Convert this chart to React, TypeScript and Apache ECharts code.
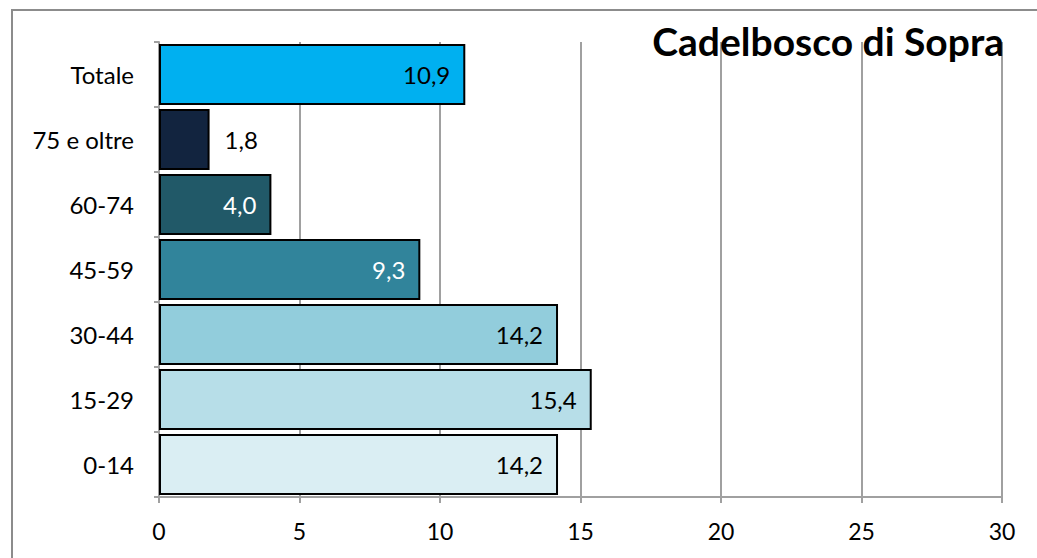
import React, { useEffect, useRef } from "react";
import * as echarts from "echarts";

const categories = ["0-14", "15-29", "30-44", "45-59", "60-74", "75 e oltre", "Totale"];
const values = [14.2, 15.4, 14.2, 9.3, 4.0, 1.8, 10.9];
const barColors = ["#DAEEF3", "#B7DEE8", "#92CDDC", "#31849B", "#215968", "#12243F", "#00B0F0"];
const labelColors = ["#000000", "#000000", "#000000", "#FFFFFF", "#FFFFFF", "#000000", "#000000"];
const labelOutside = [false, false, false, false, false, true, false];
const xTicks = { min: 0, max: 30, interval: 5 };
const title = "Cadelbosco di Sopra";

const FONT = "Lato, 'Open Sans', sans-serif";

export default function App() {
  const ref = useRef<HTMLDivElement>(null);
  useEffect(() => {
    if (!ref.current) return;
    const chart = echarts.init(ref.current, null, { renderer: "svg" });
    chart.setOption({
      animation: false,
      backgroundColor: "#ffffff",
      textStyle: { fontFamily: FONT },
      title: {
        text: title,
        right: 28,
        top: 16,
        textStyle: { fontFamily: FONT, fontWeight: "bold", fontSize: 39, color: "#000" },
      },
      graphic: [
        {
          type: "rect",
          shape: { x: 12, y: 10, width: 1100, height: 700 },
          style: { fill: "none", stroke: "#8c8c8c", lineWidth: 2 },
          silent: true,
        },
      ],
      grid: { left: 159, top: 42, right: 35, bottom: 61, containLabel: false },
      xAxis: {
        type: "value",
        min: xTicks.min,
        max: xTicks.max,
        interval: xTicks.interval,
        axisLine: { show: true, lineStyle: { color: "#a0a0a0", width: 2 } },
        axisTick: { show: true, length: 6, lineStyle: { color: "#a0a0a0", width: 2 } },
        splitLine: { show: true, lineStyle: { color: "#a0a0a0", width: 2 } },
        axisLabel: { color: "#000", fontSize: 23, fontFamily: FONT, margin: 22 },
      },
      yAxis: {
        type: "category",
        data: categories,
        axisLine: { show: true, lineStyle: { color: "#a0a0a0", width: 2 } },
        axisTick: { show: true, length: 5, lineStyle: { color: "#a0a0a0", width: 2 } },
        axisLabel: { color: "#000", fontSize: 24, fontFamily: FONT, margin: 25 },
      },
      series: [
        {
          type: "bar",
          barCategoryGap: "6%",
          data: values.map((v, i) => ({
            value: v,
            itemStyle: { color: barColors[i], borderColor: "#000", borderWidth: 2 },
            label: {
              show: true,
              position: labelOutside[i] ? "right" : "insideRight",
              distance: 15,
              color: labelColors[i],
              fontSize: 24,
              fontFamily: FONT,
              formatter: () => v.toFixed(1).replace(".", ","),
            },
          })),
        },
      ],
    });
    return () => chart.dispose();
  }, []);
  return <div ref={ref} style={{ width: 1037, height: 558, position: "absolute", left: 0, top: 0 }} />;
}
